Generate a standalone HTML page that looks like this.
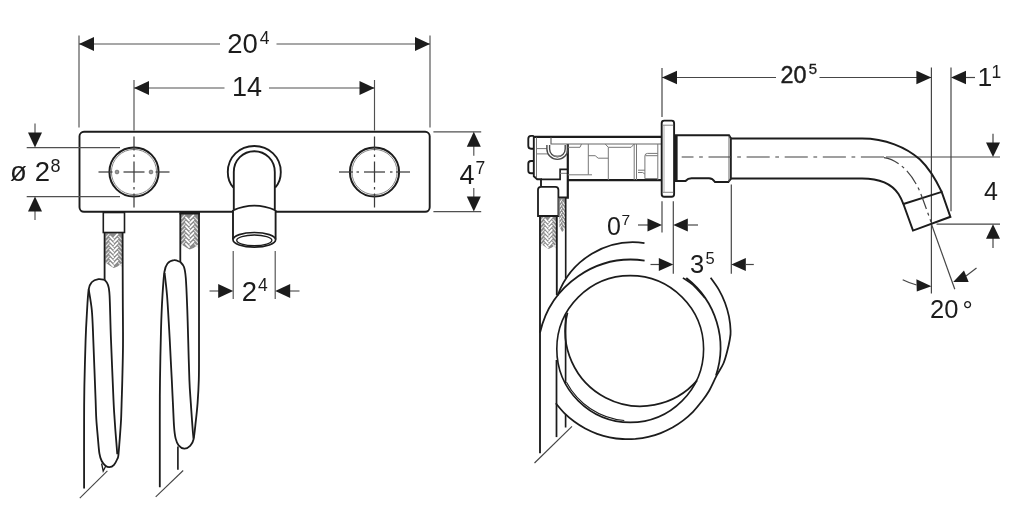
<!DOCTYPE html>
<html><head><meta charset="utf-8"><title>Drawing</title>
<style>
html,body{margin:0;padding:0;background:#fff;}
body{width:1024px;height:525px;overflow:hidden;font-family:"Liberation Sans",sans-serif;}
svg{display:block;will-change:transform;filter:blur(0.35px);}
svg text{font-family:"Liberation Sans",sans-serif;fill:#1c1c1c;}
</style></head><body>
<svg width="1024" height="525" viewBox="0 0 1024 525">
<rect width="1024" height="525" fill="#fff"/>
<line x1="79" y1="35.5" x2="79" y2="127.5" stroke="#505050" stroke-width="1.15" />
<line x1="430" y1="35.5" x2="430" y2="127.5" stroke="#505050" stroke-width="1.15" />
<line x1="79" y1="44" x2="220" y2="44" stroke="#505050" stroke-width="1.15" />
<line x1="276.5" y1="44" x2="430" y2="44" stroke="#505050" stroke-width="1.15" />
<polygon points="79.0,44.0 94.0,37.0 94.0,51.0" fill="#1c1c1c"/>
<polygon points="430.0,44.0 415.0,51.0 415.0,37.0" fill="#1c1c1c"/>
<text x="227.3" y="52.9" font-size="27.5" text-anchor="start" >20</text>
<text x="259.8" y="43.7" font-size="17.5" text-anchor="start" >4</text>
<line x1="134" y1="80" x2="134" y2="130.5" stroke="#505050" stroke-width="1.15" />
<line x1="374.5" y1="80" x2="374.5" y2="130.5" stroke="#505050" stroke-width="1.15" />
<line x1="134" y1="88" x2="224.5" y2="88" stroke="#505050" stroke-width="1.15" />
<line x1="269" y1="88" x2="374.5" y2="88" stroke="#505050" stroke-width="1.15" />
<polygon points="134.0,88.0 149.0,81.0 149.0,95.0" fill="#1c1c1c"/>
<polygon points="374.5,88.0 359.5,95.0 359.5,81.0" fill="#1c1c1c"/>
<text x="232" y="96.3" font-size="27" text-anchor="start" >14</text>
<rect x="79.5" y="131.8" width="350.2" height="80" rx="4.5" ry="4.5" fill="none" stroke="#1c1c1c" stroke-width="1.9"/>
<circle cx="134" cy="172" r="24.6" fill="none" stroke="#1c1c1c" stroke-width="2.0"/>
<circle cx="134" cy="172" r="22.6" fill="none" stroke="#666" stroke-width="0.8"/>
<line x1="98.5" y1="172" x2="112.5" y2="172" stroke="#3c3c3c" stroke-width="1.25" />
<line x1="155.5" y1="172" x2="169.5" y2="172" stroke="#3c3c3c" stroke-width="1.25" />
<line x1="123.5" y1="172" x2="144.5" y2="172" stroke="#3c3c3c" stroke-width="1.25" />
<line x1="116" y1="172" x2="118.5" y2="172" stroke="#3c3c3c" stroke-width="1.25" />
<line x1="149.5" y1="172" x2="152" y2="172" stroke="#3c3c3c" stroke-width="1.25" />
<line x1="134" y1="136.5" x2="134" y2="150.5" stroke="#3c3c3c" stroke-width="1.25" />
<line x1="134" y1="193.5" x2="134" y2="207.5" stroke="#3c3c3c" stroke-width="1.25" />
<line x1="134" y1="161.5" x2="134" y2="182.5" stroke="#3c3c3c" stroke-width="1.25" />
<line x1="134" y1="154.5" x2="134" y2="157" stroke="#3c3c3c" stroke-width="1.25" />
<line x1="134" y1="187" x2="134" y2="189.5" stroke="#3c3c3c" stroke-width="1.25" />
<circle cx="117" cy="172" r="1.9" fill="#999" stroke="#555" stroke-width="0.6"/>
<circle cx="151" cy="172" r="1.9" fill="#999" stroke="#555" stroke-width="0.6"/>
<circle cx="374.5" cy="172" r="24.6" fill="none" stroke="#1c1c1c" stroke-width="2.0"/>
<circle cx="374.5" cy="172" r="22.6" fill="none" stroke="#666" stroke-width="0.8"/>
<line x1="339.0" y1="172" x2="353.0" y2="172" stroke="#3c3c3c" stroke-width="1.25" />
<line x1="396.0" y1="172" x2="410.0" y2="172" stroke="#3c3c3c" stroke-width="1.25" />
<line x1="364.0" y1="172" x2="385.0" y2="172" stroke="#3c3c3c" stroke-width="1.25" />
<line x1="356.5" y1="172" x2="359.0" y2="172" stroke="#3c3c3c" stroke-width="1.25" />
<line x1="390.0" y1="172" x2="392.5" y2="172" stroke="#3c3c3c" stroke-width="1.25" />
<line x1="374.5" y1="136.5" x2="374.5" y2="150.5" stroke="#3c3c3c" stroke-width="1.25" />
<line x1="374.5" y1="193.5" x2="374.5" y2="207.5" stroke="#3c3c3c" stroke-width="1.25" />
<line x1="374.5" y1="161.5" x2="374.5" y2="182.5" stroke="#3c3c3c" stroke-width="1.25" />
<line x1="374.5" y1="154.5" x2="374.5" y2="157" stroke="#3c3c3c" stroke-width="1.25" />
<line x1="374.5" y1="187" x2="374.5" y2="189.5" stroke="#3c3c3c" stroke-width="1.25" />
<line x1="26.7" y1="147.6" x2="120" y2="147.6" stroke="#505050" stroke-width="1.15" />
<line x1="26.7" y1="196.6" x2="120" y2="196.6" stroke="#505050" stroke-width="1.15" />
<line x1="35" y1="123.6" x2="35" y2="133" stroke="#505050" stroke-width="1.15" />
<line x1="35" y1="211" x2="35" y2="220" stroke="#505050" stroke-width="1.15" />
<polygon points="35.0,147.6 28.0,132.6 42.0,132.6" fill="#1c1c1c"/>
<polygon points="35.0,196.6 42.0,211.6 28.0,211.6" fill="#1c1c1c"/>
<text x="10" y="181.4" font-size="27.5" text-anchor="start" >ø</text>
<text x="34.7" y="181.4" font-size="27.5" text-anchor="start" >2</text>
<text x="50.6" y="172.3" font-size="18" text-anchor="start" >8</text>
<line x1="433.4" y1="131.8" x2="481.2" y2="131.8" stroke="#505050" stroke-width="1.15" />
<line x1="433.4" y1="211.6" x2="481.2" y2="211.6" stroke="#505050" stroke-width="1.15" />
<line x1="473.8" y1="146" x2="473.8" y2="155.8" stroke="#505050" stroke-width="1.15" />
<line x1="473.8" y1="188" x2="473.8" y2="197.5" stroke="#505050" stroke-width="1.15" />
<polygon points="473.8,131.8 480.8,146.8 466.8,146.8" fill="#1c1c1c"/>
<polygon points="473.8,211.6 466.8,196.6 480.8,196.6" fill="#1c1c1c"/>
<text x="459.4" y="184" font-size="27" text-anchor="start" >4</text>
<text x="475.5" y="174" font-size="17.5" text-anchor="start" >7</text>
<path d="M233.6 186 L233.6 209.5 L233 210.5 L233 239.5 A21.3 7 0 0 0 275.6 239.5 L275.6 210.5 L275 209.5 L275 186 Z" fill="#fff" stroke="none" stroke-width="0" />
<path d="M233.4 187.5 C229 183 227.8 178 227.8 172 C227.8 157 239.5 146 254.3 146 C269 146 280.8 157 280.8 172 C280.8 178 279.6 183 275.2 187.5" fill="none" stroke="#1c1c1c" stroke-width="1.87" />
<path d="M233.8 209.5 L233.8 172 C233.8 160 243 151.2 254.3 151.2 C265.6 151.2 274.8 160 274.8 172 L274.8 209.5" fill="none" stroke="#1c1c1c" stroke-width="1.87" />
<path d="M233 210.3 Q254.3 201 275.6 210.3" fill="none" stroke="#1c1c1c" stroke-width="1.87" />
<path d="M233 210 L233 239.5 M275.6 210 L275.6 239.5" fill="none" stroke="#1c1c1c" stroke-width="1.87" />
<ellipse cx="254.3" cy="239.8" rx="21.3" ry="7.3" fill="#fff" stroke="#1c1c1c" stroke-width="1.7"/>
<ellipse cx="254.3" cy="240.3" rx="17.6" ry="5.3" fill="none" stroke="#1c1c1c" stroke-width="1.3"/>
<line x1="233.2" y1="251" x2="233.2" y2="299" stroke="#505050" stroke-width="1.15" />
<line x1="275.2" y1="251" x2="275.2" y2="299" stroke="#505050" stroke-width="1.15" />
<line x1="209.5" y1="291" x2="219" y2="291" stroke="#505050" stroke-width="1.15" />
<line x1="289" y1="291" x2="299.5" y2="291" stroke="#505050" stroke-width="1.15" />
<polygon points="233.2,291.0 218.2,298.0 218.2,284.0" fill="#1c1c1c"/>
<polygon points="275.2,291.0 290.2,284.0 290.2,298.0" fill="#1c1c1c"/>
<text x="241.8" y="300.6" font-size="27.5" text-anchor="start" >2</text>
<text x="258" y="291.2" font-size="17.5" text-anchor="start" >4</text>
<path d="M105.3 233.0 L122.3 233.0 L122.3 263.0 L117.5 266.5 L113.8 268.0 L110.4 266.0 L105.3 262.5 Z" fill="#8a8a8a"/>
<path d="M110.1 236.4 L113.2 239.7 M110.1 240.8 L113.2 244.1 M110.1 245.2 L113.2 248.5 M110.1 249.6 L113.2 252.9 M110.1 254.0 L113.2 257.3 M110.1 258.4 L113.2 261.7 M110.1 262.8 L113.2 266.1 M114.3 237.5 L117.5 234.2 M114.3 241.9 L117.5 238.6 M114.3 246.3 L117.5 243.0 M114.3 250.7 L117.5 247.4 M114.3 255.1 L117.5 251.8 M114.3 259.5 L117.5 256.2 M114.3 263.9 L117.5 260.6 " stroke="#fff" stroke-width="1.75" stroke-linecap="round" fill="none"/>
<path d="M105.8 237.5 L109.0 234.2 M105.8 241.9 L109.0 238.6 M105.8 246.3 L109.0 243.0 M105.8 250.7 L109.0 247.4 M105.8 255.1 L109.0 251.8 M105.8 259.5 L109.0 256.2 M105.8 263.9 L109.0 260.6 M118.6 236.4 L121.8 239.7 M118.6 240.8 L121.8 244.1 M118.6 245.2 L121.8 248.5 M118.6 249.6 L121.8 252.9 M118.6 254.0 L121.8 257.3 M118.6 258.4 L121.8 261.7 M118.6 262.8 L121.8 266.1 " stroke="#e2e2e2" stroke-width="1.2" stroke-linecap="round" fill="none"/>
<rect x="103.3" y="212.5" width="21.2" height="20" fill="#fff" stroke="#1c1c1c" stroke-width="1.6"/>
<path d="M104.6 232.5 L104.6 279.8" fill="none" stroke="#1c1c1c" stroke-width="1.81" />
<path d="M122.6 232.5 C122.6 243.8 122.7 281.2 122.8 300.0 C122.9 318.8 123.1 331.7 123.0 345.0 C122.9 358.3 122.5 370.8 122.3 380.0 C122.1 389.2 121.9 393.5 121.7 400.0 C121.5 406.5 121.4 412.6 121.1 419.0 C120.8 425.4 120.2 432.1 119.8 438.1 C119.3 444.1 118.8 451.7 118.4 455.2 C118.0 458.7 118.0 457.4 117.3 459.0 C116.6 460.6 115.3 463.4 114.0 464.8 C112.7 466.2 110.7 467.1 109.3 467.2 C107.9 467.3 106.8 466.7 105.5 465.7 C104.2 464.7 102.7 463.1 101.7 461.0 C100.7 458.9 100.0 457.1 99.4 453.3 C98.8 449.5 98.4 443.8 97.9 438.1 C97.4 432.4 96.7 425.4 96.3 419.0 C95.9 412.6 96.1 413.2 95.6 400.0 C95.1 386.8 93.9 355.0 93.3 340.0 C92.7 325.0 92.6 318.4 91.8 310.0 C91.0 301.6 89.2 292.8 88.7 289.4" fill="none" stroke="#1c1c1c" stroke-width="1.81" />
<path d="M104.6 279.8 C103.6 279.7 100.6 278.8 98.5 279.2 C96.4 279.6 93.6 280.3 92.0 282.0 C90.4 283.7 89.6 283.9 88.7 289.4 C87.8 294.9 87.3 306.6 86.8 315.0 C86.3 323.4 86.0 328.3 85.6 340.0 C85.2 351.7 84.7 371.7 84.4 385.0 C84.2 398.3 84.1 402.7 84.1 420.0 C84.0 437.3 84.1 477.2 84.1 488.6" fill="none" stroke="#1c1c1c" stroke-width="1.81" />
<path d="M104.6 279.8 C105.1 280.6 107.0 281.9 107.8 284.6 C108.6 287.3 109.1 286.8 109.6 296.0 C110.1 305.2 110.3 322.7 111.0 340.0 C111.7 357.3 112.9 386.8 113.5 400.0 C114.1 413.2 114.2 412.6 114.6 419.0 C115.0 425.4 115.5 432.2 116.0 438.1 C116.5 444.0 117.1 451.6 117.3 454.3" fill="none" stroke="#1c1c1c" stroke-width="1.81" />
<path d="M101.6 463.5 L103.2 471 L105.8 466" fill="none" stroke="#1c1c1c" stroke-width="1.32" />
<line x1="79.8" y1="498.1" x2="107.4" y2="470.9" stroke="#444" stroke-width="1.1" />
<path d="M181.0 214.0 L198.4 214.0 L198.4 244.5 L193.5 248.0 L189.7 249.5 L186.2 247.5 L181.0 244.0 Z" fill="#8a8a8a"/>
<path d="M185.9 217.4 L189.1 220.7 M185.9 221.8 L189.1 225.1 M185.9 226.2 L189.1 229.5 M185.9 230.6 L189.1 233.9 M185.9 235.0 L189.1 238.3 M185.9 239.4 L189.1 242.7 M185.9 243.8 L189.1 247.1 M190.2 218.5 L193.5 215.2 M190.2 222.9 L193.5 219.6 M190.2 227.3 L193.5 224.0 M190.2 231.7 L193.5 228.4 M190.2 236.1 L193.5 232.8 M190.2 240.5 L193.5 237.2 M190.2 244.9 L193.5 241.6 " stroke="#fff" stroke-width="1.75" stroke-linecap="round" fill="none"/>
<path d="M181.6 218.5 L184.8 215.2 M181.6 222.9 L184.8 219.6 M181.6 227.3 L184.8 224.0 M181.6 231.7 L184.8 228.4 M181.6 236.1 L184.8 232.8 M181.6 240.5 L184.8 237.2 M181.6 244.9 L184.8 241.6 M194.6 217.4 L197.8 220.7 M194.6 221.8 L197.8 225.1 M194.6 226.2 L197.8 229.5 M194.6 230.6 L197.8 233.9 M194.6 235.0 L197.8 238.3 M194.6 239.4 L197.8 242.7 M194.6 243.8 L197.8 247.1 " stroke="#e2e2e2" stroke-width="1.2" stroke-linecap="round" fill="none"/>
<path d="M179.5 213 L200 213" fill="none" stroke="#1c1c1c" stroke-width="2.86" />
<path d="M180.3 213 L180.3 262" fill="none" stroke="#1c1c1c" stroke-width="1.81" />
<path d="M199.0 213.0 C199.0 227.5 199.0 275.5 199.0 300.0 C199.0 324.5 199.0 346.7 199.0 360.0 C199.0 373.3 199.0 372.9 198.8 380.0 C198.6 387.1 198.1 396.0 197.6 402.9 C197.1 409.8 196.5 415.1 195.8 421.2 C195.1 427.3 194.4 435.4 193.5 439.5 C192.6 443.6 191.6 444.4 190.1 445.9 C188.6 447.4 186.2 448.8 184.3 448.7 C182.4 448.6 180.1 447.0 178.6 445.3 C177.1 443.6 176.4 441.6 175.6 438.4 C174.8 435.1 174.4 431.7 174.0 425.8 C173.6 419.9 173.3 410.5 172.9 402.9 C172.5 395.3 172.2 388.0 171.8 380.0 C171.4 372.0 170.9 363.3 170.5 355.0 C170.1 346.7 169.8 340.0 169.2 330.0 C168.6 320.0 167.8 304.5 167.0 295.0 C166.2 285.5 165.0 276.7 164.6 273.0" fill="none" stroke="#1c1c1c" stroke-width="1.81" />
<path d="M180.3 262.0 C179.2 261.7 176.1 259.9 174.0 260.2 C171.9 260.4 169.1 261.5 167.5 263.5 C165.9 265.5 165.2 266.8 164.4 272.0 C163.6 277.2 163.1 285.3 162.5 295.0 C161.9 304.7 161.4 315.8 161.0 330.0 C160.6 344.2 160.2 365.0 160.0 380.0 C159.8 395.0 159.8 402.1 159.8 420.0 C159.8 437.9 159.8 476.0 159.8 487.2" fill="none" stroke="#1c1c1c" stroke-width="1.81" />
<path d="M180.3 262.0 C180.9 262.8 183.1 264.3 184.0 267.0 C184.9 269.7 185.2 270.8 185.8 278.0 C186.4 285.2 186.9 299.7 187.3 310.0 C187.7 320.3 187.8 328.3 188.2 340.0 C188.5 351.7 189.0 369.5 189.4 380.0 C189.8 390.5 190.3 395.3 190.8 402.9 C191.3 410.5 192.0 419.9 192.4 425.8 C192.8 431.7 193.3 436.3 193.5 438.4" fill="none" stroke="#1c1c1c" stroke-width="1.81" />
<path d="M177.9 446.4 L177.9 469.8" fill="none" stroke="#1c1c1c" stroke-width="1.65" />
<line x1="155.7" y1="496.8" x2="183.2" y2="470.5" stroke="#444" stroke-width="1.1" />
<line x1="662" y1="68" x2="662" y2="117" stroke="#464646" stroke-width="1.2" />
<line x1="931.4" y1="67.5" x2="931.4" y2="293.5" stroke="#464646" stroke-width="1.2" />
<line x1="951" y1="67.5" x2="951" y2="211.3" stroke="#464646" stroke-width="1.2" />
<line x1="662" y1="77.5" x2="776" y2="77.5" stroke="#464646" stroke-width="1.2" />
<line x1="819.5" y1="77.5" x2="931.4" y2="77.5" stroke="#464646" stroke-width="1.2" />
<polygon points="662.0,77.5 677.0,70.7 677.0,84.3" fill="#1c1c1c"/>
<polygon points="931.4,77.5 916.4,84.3 916.4,70.7" fill="#1c1c1c"/>
<text x="780.5" y="82.5" font-size="23.5" text-anchor="start" textLength="26" lengthAdjust="spacingAndGlyphs" stroke="#1c1c1c" stroke-width="0.45">20</text>
<text x="808.8" y="74.3" font-size="15" text-anchor="start" stroke="#1c1c1c" stroke-width="0.3">5</text>
<line x1="965" y1="77.5" x2="975" y2="77.5" stroke="#464646" stroke-width="1.2" />
<polygon points="951.0,77.5 966.0,70.7 966.0,84.3" fill="#1c1c1c"/>
<text x="977.5" y="86.3" font-size="26.5" text-anchor="start" >1</text>
<text x="991.5" y="78" font-size="17.5" text-anchor="start" >1</text>
<line x1="886" y1="157" x2="1000" y2="157" stroke="#464646" stroke-width="1.2" />
<line x1="936.5" y1="224.2" x2="1000" y2="224.2" stroke="#464646" stroke-width="1.2" />
<line x1="993" y1="133.8" x2="993" y2="143.5" stroke="#464646" stroke-width="1.2" />
<line x1="993" y1="238" x2="993" y2="248" stroke="#464646" stroke-width="1.2" />
<polygon points="993.0,157.0 986.0,142.5 1000.0,142.5" fill="#1c1c1c"/>
<polygon points="993.0,224.2 1000.0,238.7 986.0,238.7" fill="#1c1c1c"/>
<text x="984" y="200" font-size="25" text-anchor="start" >4</text>
<line x1="931.4" y1="224" x2="954.8" y2="289.2" stroke="#464646" stroke-width="1.2" />
<polygon points="931.4,286.2 916.4,279.2 916.8,291.6" fill="#1c1c1c"/>
<path d="M902.7 279.8 Q909.5 283.2 916.6 285" fill="none" stroke="#464646" stroke-width="1.2" />
<polygon points="953.2,282.0 964.0,270.5 968.7,282.0" fill="#1c1c1c"/>
<line x1="966" y1="276" x2="976.5" y2="268" stroke="#464646" stroke-width="1.2" />
<text x="930" y="318.2" font-size="25.5" text-anchor="start" >20</text>
<text x="962.5" y="318.6" font-size="25.5" text-anchor="start" >°</text>
<line x1="662" y1="201.2" x2="662" y2="232.5" stroke="#464646" stroke-width="1.2" />
<line x1="673.3" y1="201.2" x2="673.3" y2="273.8" stroke="#464646" stroke-width="1.2" />
<line x1="638" y1="225" x2="648" y2="225" stroke="#464646" stroke-width="1.2" />
<line x1="688" y1="225" x2="698" y2="225" stroke="#464646" stroke-width="1.2" />
<polygon points="662.0,225.0 647.5,231.6 647.5,218.4" fill="#1c1c1c"/>
<polygon points="673.3,225.0 687.8,218.4 687.8,231.6" fill="#1c1c1c"/>
<text x="607" y="234.5" font-size="25" text-anchor="start" >0</text>
<text x="621.5" y="224.5" font-size="15.5" text-anchor="start" >7</text>
<line x1="731.3" y1="184.5" x2="731.3" y2="273.8" stroke="#464646" stroke-width="1.2" />
<line x1="650.5" y1="264.5" x2="659" y2="264.5" stroke="#464646" stroke-width="1.2" />
<line x1="746" y1="264.5" x2="753.8" y2="264.5" stroke="#464646" stroke-width="1.2" />
<polygon points="673.3,264.5 658.8,271.1 658.8,257.9" fill="#1c1c1c"/>
<polygon points="731.3,264.5 745.8,257.9 745.8,271.1" fill="#1c1c1c"/>
<text x="690" y="273.3" font-size="25.5" text-anchor="start" >3</text>
<text x="705.5" y="264.3" font-size="16.5" text-anchor="start" >5</text>
<path d="M533.8 135.9 L531 135.9 Q528.3 135.9 528.3 138.8 L528.3 145.8 Q528.3 148.7 531 148.7 L533.8 148.7" fill="none" stroke="#1c1c1c" stroke-width="1.87" />
<path d="M533.8 161 L531 161 Q528.3 161 528.3 163.8 L528.3 170.4 Q528.3 173.2 531 173.2 L533.8 173.2" fill="none" stroke="#1c1c1c" stroke-width="1.87" />
<path d="M533.8 136.8 L661.5 136.8" fill="none" stroke="#1c1c1c" stroke-width="2.2" />
<path d="M533.8 136 L533.8 176.3 L537.2 179.3 L541 179.3 L541 186" fill="none" stroke="#1c1c1c" stroke-width="1.87" />
<path d="M541 179.3 L560.1 179.3 L560.1 169.4 L567.5 169.4" fill="none" stroke="#1c1c1c" stroke-width="1.65" />
<path d="M560.1 173.3 L567.5 173.3" fill="none" stroke="#777" stroke-width="1.0" />
<path d="M567.8 144 L567.8 197.6 L559 197.6" fill="none" stroke="#1c1c1c" stroke-width="2.2" />
<path d="M567.8 180.2 L661.5 180.2" fill="none" stroke="#1c1c1c" stroke-width="2.2" />
<path d="M551 137.5 L551 144 L661 144" fill="none" stroke="#666" stroke-width="1.2" />
<path d="M536.5 137.5 L536.5 177" fill="none" stroke="#777" stroke-width="1.0" />
<path d="M536.5 148.6 L547 148.6 M536.5 153.9 L548 153.9" fill="none" stroke="#777" stroke-width="1.0" />
<path d="M546.9 145 L546.9 148.9 A10.5 10.5 0 0 0 567.9 148.9 L567.9 145" fill="none" stroke="#484848" stroke-width="1.4" />
<path d="M549.6 145 L549.6 148.9 A7.8 7.8 0 0 0 565.2 148.9 L565.2 145" fill="none" stroke="#484848" stroke-width="1.4" />
<path d="M553.5 155.7 L561.3 155.7 A7.8 7.8 0 0 1 553.5 155.7 Z" fill="#bbb" stroke="#777" stroke-width="0.6" />
<path d="M567.8 147.3 L580 147.3 L581.5 144 M588.3 144 L588.3 174.8 L567.8 174.8" fill="none" stroke="#777" stroke-width="1.0" />
<path d="M588.3 155.7 L595.2 155.7 L598.2 158.2 L608.3 158.2" fill="none" stroke="#777" stroke-width="1.0" />
<path d="M588.3 174.8 L592 174.8" fill="none" stroke="#777" stroke-width="1.0" />
<path d="M605.2 144 L608.3 147.3 L631.1 147.3 L634.2 144" fill="none" stroke="#777" stroke-width="1.0" />
<path d="M608.3 147.3 L608.3 180 M634.2 144 L634.2 180 M636.5 144 L636.5 180 M657.8 144 L657.8 180" fill="none" stroke="#777" stroke-width="1.0" />
<path d="M657.8 153.4 L647.5 153.4 Q644.9 153.4 644.9 156 L644.9 178.6 L657.8 178.6 M645.5 155.7 L657.8 155.7" fill="none" stroke="#777" stroke-width="1.0" />
<path d="M638 170.2 L644.9 170.2 M638 172.5 L642.6 172.5 L644.9 174" fill="none" stroke="#777" stroke-width="1.0" />
<rect x="661.7" y="120.6" width="12.4" height="76.2" rx="2.5" ry="2.5" fill="#fff" stroke="#1c1c1c" stroke-width="1.9"/>
<path d="M662.5 125.2 L673.3 125.2 M662.5 192.3 L673.3 192.3" fill="none" stroke="#777" stroke-width="0.9" />
<path d="M664 125.2 L664 192.3" fill="none" stroke="#999" stroke-width="0.8" />
<path d="M731 138.6 L729 135.2 L675.9 135.2 L675.9 181 L685.5 181 Q688 178.2 691.5 178.2 L709 178.2 Q712.5 178.2 715 182 L728.3 182 L731 178.6" fill="none" stroke="#1c1c1c" stroke-width="1.98" />
<path d="M676.3 135 L676.3 181" fill="none" stroke="#1c1c1c" stroke-width="2.64" />
<path d="M729 136 L729 181.5" fill="none" stroke="#666" stroke-width="1.0" />
<path d="M730.9 138.6 L730.9 178.8" fill="none" stroke="#1c1c1c" stroke-width="1.76" />
<path d="M730.9 138.5 L862 138.5 C885 138.5 906 147 920 159.5 C931 170 937 182 941.7 191.9" fill="none" stroke="#1c1c1c" stroke-width="1.98" />
<path d="M730.9 178.4 L862 178.4 C880 178.4 892 184 898.5 194 C901 198 902.3 201 903.4 204" fill="none" stroke="#1c1c1c" stroke-width="1.98" />
<path d="M903.4 204 L941.7 191.9 L950.4 216.8 L913 230.6 Z" fill="none" stroke="#1c1c1c" stroke-width="1.98" />
<path d="M681.7 157 L888 157" fill="none" stroke="#404040" stroke-width="1.2" stroke-dasharray="23.1 5.6 3.75 5.65" stroke-dashoffset="11.3"/>
<path d="M884 157.6 C900 160 913 175 920.5 193 C924 202 927.5 212 931 222" fill="none" stroke="#404040" stroke-width="1.2" stroke-dasharray="16 4 3 4"/>
<path d="M540.7 216.0 L556.2 216.0 L556.2 244.0 L551.9 247.5 L548.5 249.0 L545.4 247.0 L540.7 243.5 Z" fill="#8a8a8a"/>
<path d="M545.1 219.3 L547.9 222.4 M545.1 223.5 L547.9 226.6 M545.1 227.7 L547.9 230.8 M545.1 231.9 L547.9 235.0 M545.1 236.1 L547.9 239.2 M545.1 240.3 L547.9 243.4 M545.1 244.5 L547.9 247.6 M549.0 220.3 L551.8 217.2 M549.0 224.5 L551.8 221.4 M549.0 228.7 L551.8 225.6 M549.0 232.9 L551.8 229.8 M549.0 237.1 L551.8 234.0 M549.0 241.3 L551.8 238.2 M549.0 245.5 L551.8 242.4 " stroke="#fff" stroke-width="1.75" stroke-linecap="round" fill="none"/>
<path d="M541.2 220.3 L544.0 217.2 M541.2 224.5 L544.0 221.4 M541.2 228.7 L544.0 225.6 M541.2 232.9 L544.0 229.8 M541.2 237.1 L544.0 234.0 M541.2 241.3 L544.0 238.2 M541.2 245.5 L544.0 242.4 M552.9 219.3 L555.7 222.4 M552.9 223.5 L555.7 226.6 M552.9 227.7 L555.7 230.8 M552.9 231.9 L555.7 235.0 M552.9 236.1 L555.7 239.2 M552.9 240.3 L555.7 243.4 M552.9 244.5 L555.7 247.6 " stroke="#e2e2e2" stroke-width="1.2" stroke-linecap="round" fill="none"/>
<path d="M559.4 198.5 L565.0 198.5 L565.0 227.0 L563.4 230.5 L562.2 232.0 L561.1 230.0 L559.4 226.5 Z" fill="#8a8a8a"/>
<path d="M559.9 202.8 L561.7 199.7 M559.9 207.0 L561.7 203.9 M559.9 211.2 L561.7 208.1 M559.9 215.4 L561.7 212.3 M559.9 219.6 L561.7 216.5 M559.9 223.8 L561.7 220.7 M559.9 228.0 L561.7 224.9 M562.8 201.8 L564.5 204.9 M562.8 206.0 L564.5 209.1 M562.8 210.2 L564.5 213.3 M562.8 214.4 L564.5 217.5 M562.8 218.6 L564.5 221.7 M562.8 222.8 L564.5 225.9 M562.8 227.0 L564.5 230.1 " stroke="#fff" stroke-width="1.0" stroke-linecap="round" fill="none"/>
<path d="M538 216 L538 189.8 Q538 186.8 541 186.8 L555.4 186.8 Q558.4 186.8 558.4 189.8 L558.4 216 Z" fill="#fff" stroke="#1c1c1c" stroke-width="1.8"/>
<path d="M540 216 L540 453.3" fill="none" stroke="#1c1c1c" stroke-width="1.87" />
<path d="M556.8 216 L556.8 295.2" fill="none" stroke="#1c1c1c" stroke-width="1.87" />
<path d="M565.7 198 L565.7 278.5" fill="none" stroke="#1c1c1c" stroke-width="1.65" />
<path d="M558.9 198 L558.9 216" fill="none" stroke="#777" stroke-width="1.0" />
<path d="M556.5 360 L556.5 437.1" fill="none" stroke="#1c1c1c" stroke-width="1.76" />
<path d="M565.6 314.5 L565.6 383 M565.6 414.3 L565.6 427.6" fill="none" stroke="#1c1c1c" stroke-width="1.65" />
<line x1="534.5" y1="463" x2="572" y2="426.4" stroke="#444" stroke-width="1.15" />
<path d="M557.70 295.33 A80.40 80.40 0 0 1 644.49 243.08" fill="none" stroke="#1c1c1c" stroke-width="1.76" />
<path d="M539.99 332.70 A93.70 93.70 0 0 1 644.60 260.53" fill="none" stroke="#1c1c1c" stroke-width="1.76" />
<circle cx="630.2" cy="349" r="73.4" fill="none" stroke="#1c1c1c" stroke-width="1.6"/>
<path d="M567.47 312.78 A75.20 75.20 0 0 0 697.15 380.44" fill="none" stroke="#1c1c1c" stroke-width="1.76" />
<path d="M566.50 382.28 A72.60 72.60 0 0 0 624.27 420.52" fill="none" stroke="#1c1c1c" stroke-width="1.1" />
<path d="M555.8 403.3 C557.2 405.0 561.3 410.1 564.3 413.1 C567.4 416.1 570.7 419.0 574.2 421.5 C577.7 424.1 581.4 426.4 585.2 428.5 C589.0 430.5 593.0 432.3 597.1 433.8 C601.1 435.2 605.3 436.4 609.6 437.3 C613.8 438.2 618.1 438.8 622.5 439.0 C626.8 439.3 631.1 439.2 635.4 438.9 C639.7 438.5 644.1 437.9 648.3 436.9 C652.5 435.9 656.7 434.7 660.7 433.1 C664.7 431.5 668.7 429.7 672.5 427.6 C676.2 425.4 679.9 423.0 683.3 420.4 C686.7 417.8 690.0 414.8 693.0 411.8 C696.0 408.7 698.7 405.3 701.4 401.8 C704.0 398.4 706.5 395.4 709.0 391.0 C711.5 386.6 714.2 380.3 716.6 375.7 C719.0 371.1 721.6 367.6 723.4 363.5 C725.2 359.4 726.2 355.2 727.2 351.3 C728.2 347.4 729.1 343.4 729.7 340.0 C730.3 336.6 730.8 334.9 730.6 331.0 C730.5 327.1 729.9 321.3 729.0 316.6 C728.0 311.9 726.7 307.2 725.0 302.7 C723.3 298.2 721.2 293.8 718.8 289.6 C716.4 285.4 712.0 279.6 710.6 277.7" fill="none" stroke="#1c1c1c" stroke-width="1.76" />
<path d="M715.95 375.52 A88.00 88.00 0 0 0 686.31 277.97" fill="none" stroke="#1c1c1c" stroke-width="1.76" />
<path d="M705.0 298.0 C703.0 295.8 696.7 288.4 693.0 285.0 C689.3 281.6 684.6 279.0 682.9 277.8" fill="none" stroke="#1c1c1c" stroke-width="1.65" />
</svg>
</body></html>
